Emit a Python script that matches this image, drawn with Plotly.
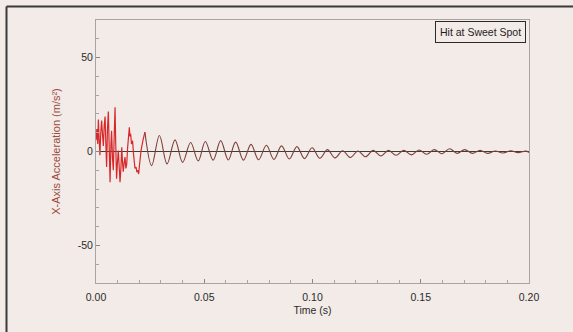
import plotly.graph_objects as go

# Impact burst right after the hit (s, m/s^2)
burst_t = [0.0000, 0.0004, 0.0008, 0.0011, 0.0014, 0.0018, 0.0022, 0.0026, 0.0030, 0.0034,
           0.0038, 0.0042, 0.0045, 0.0049, 0.0053, 0.0057, 0.0061, 0.0065, 0.0069, 0.0072,
           0.0076, 0.0080, 0.0084, 0.0088, 0.0091, 0.0095, 0.0099, 0.0103, 0.0107, 0.0111,
           0.0115, 0.0119, 0.0122, 0.0126, 0.0130, 0.0134, 0.0138, 0.0142, 0.0146, 0.0149,
           0.0154, 0.0157, 0.0160, 0.0164, 0.0169, 0.0173, 0.0176, 0.0180, 0.0185, 0.0189,
           0.0194, 0.0197, 0.0200, 0.0204, 0.0208, 0.0217, 0.0226]
burst_a = [6.0, 12.0, 4.0, 17.0, 8.0, -2.0, 10.0, 16.5, 9.0, 3.0,
           14.0, 18.6, 6.0, -8.3, 12.0, 21.3, 2.0, -16.3, 4.0, 11.0,
           -3.0, -10.0, 8.0, 23.5, 5.0, -14.5, -6.0, 0.5, -8.0, -16.3,
           -9.0, 2.3, -5.0, -10.8, -6.0, -3.0, -9.0, -6.6, 2.0, 7.6,
           12.9, 8.0, 9.4, 4.0, 5.7, -1.0, -4.8, -9.0, -8.3, -11.0,
           -10.0, -12.0, -8.3, -4.0, 0.5, 6.0, 10.3]

# Ringing of the bat: peaks and troughs of the decaying vibration
ring_t = [0.0226, 0.0257, 0.0293, 0.0328, 0.0365, 0.0400, 0.0437, 0.0472, 0.0505, 0.0541,
          0.0576, 0.0611, 0.0645, 0.0681, 0.0716, 0.0751, 0.0787, 0.0822, 0.0857, 0.0893,
          0.0928, 0.0963, 0.0998, 0.1034, 0.1069, 0.1104, 0.1139, 0.1175, 0.1210, 0.1245,
          0.1280, 0.1316, 0.1351, 0.1386, 0.1421, 0.1457, 0.1492, 0.1527, 0.1562, 0.1598,
          0.1633, 0.1668, 0.1703, 0.1739, 0.1774, 0.1809, 0.1844, 0.1880, 0.1915, 0.1950,
          0.1985, 0.2000]
ring_a = [10.3, -7.5, 8.5, -6.6, 6.2, -5.8, 4.8, -5.0, 5.3, -4.6,
          5.8, -4.5, 5.0, -4.6, 3.8, -4.4, 3.3, -4.2, 3.0, -4.0,
          2.6, -3.8, 2.0, -3.6, 1.0, -3.4, 0.4, -3.2, 0.3, -2.8,
          0.6, -2.4, 0.6, -2.0, 0.6, -1.8, 0.8, -1.5, 1.0, -1.2,
          1.5, -1.0, 1.0, -1.0, 0.6, -1.0, 0.3, -0.8, 0.4, -0.6,
          0.2, -0.5]

x_ticks = [0.00, 0.05, 0.10, 0.15, 0.20]
x_labels = ["0.00", "0.05", "0.10", "0.15", "0.20"]
y_ticks = [-50, 0, 50]
y_labels = ["-50", "0", "50"]

paper = "#f2ebe8"
font = "Liberation Sans, Arial, sans-serif"

fig = go.Figure()
fig.add_trace(go.Scatter(x=ring_t, y=ring_a, mode="lines",
                         line=dict(color="#7d3f3a", width=1.1, shape="spline", smoothing=1.0),
                         hoverinfo="skip", showlegend=False))
fig.add_trace(go.Scatter(x=burst_t, y=burst_a, mode="lines",
                         line=dict(color="#d8282a", width=1.2),
                         hoverinfo="skip", showlegend=False))

# plot-area edges in pixels, used for the outer frame shapes
L, R, T, B, W, H = 96, 529, 20, 283, 573, 332
def px(x):
    return (x - L) / (R - L)
def py(y):
    return (B - y) / (B - T)

fig.add_shape(type="line", xref="paper", yref="paper",
              x0=px(6.5), x1=px(6.5), y0=py(6.5), y1=py(H + 2),
              line=dict(color="#3a3a3a", width=2))
fig.add_shape(type="line", xref="paper", yref="paper",
              x0=px(6.5), x1=px(W + 2), y0=py(6.5), y1=py(6.5),
              line=dict(color="#3a3a3a", width=2))

fig.add_annotation(text="Hit at Sweet Spot", xref="paper", yref="paper",
                   x=px(526), y=py(21), xanchor="right", yanchor="top",
                   showarrow=False, font=dict(family=font, size=10.5, color="#1e1e1e"),
                   bordercolor="#2a2a2a", borderwidth=1, borderpad=4, bgcolor=paper)

fig.update_layout(
    width=W, height=H,
    margin=dict(l=L, r=W - R, t=T, b=H - B),
    paper_bgcolor=paper, plot_bgcolor=paper,
    font=dict(family=font, size=10.5, color="#2a2a2a"),
    xaxis=dict(range=[0, 0.2], tickvals=x_ticks, ticktext=x_labels,
               showgrid=False, zeroline=False,
               showline=True, linecolor="#a8a4a2", linewidth=1, mirror=True,
               ticks="inside", ticklen=4, tickcolor="#8a8684", ticklabelstandoff=4,
               minor=dict(dtick=0.01, ticks="inside", ticklen=3, tickcolor="#a8a4a2"),
               title=dict(text="Time (s)", font=dict(size=10.5, color="#2a2a2a"), standoff=5)),
    yaxis=dict(range=[-70, 70], tickvals=y_ticks, ticktext=y_labels,
               showgrid=False, zeroline=True, zerolinecolor="#3c3c3c", zerolinewidth=1,
               showline=True, linecolor="#a8a4a2", linewidth=1, mirror=True,
               ticks="inside", ticklen=4, tickcolor="#8a8684",
               minor=dict(dtick=10, ticks="inside", ticklen=3, tickcolor="#a8a4a2"),
               title=dict(text="X-Axis Acceleration (m/s²)",
                          font=dict(size=11, color="#9c4c3c"), standoff=14)),
)

fig.write_html("out.html")
